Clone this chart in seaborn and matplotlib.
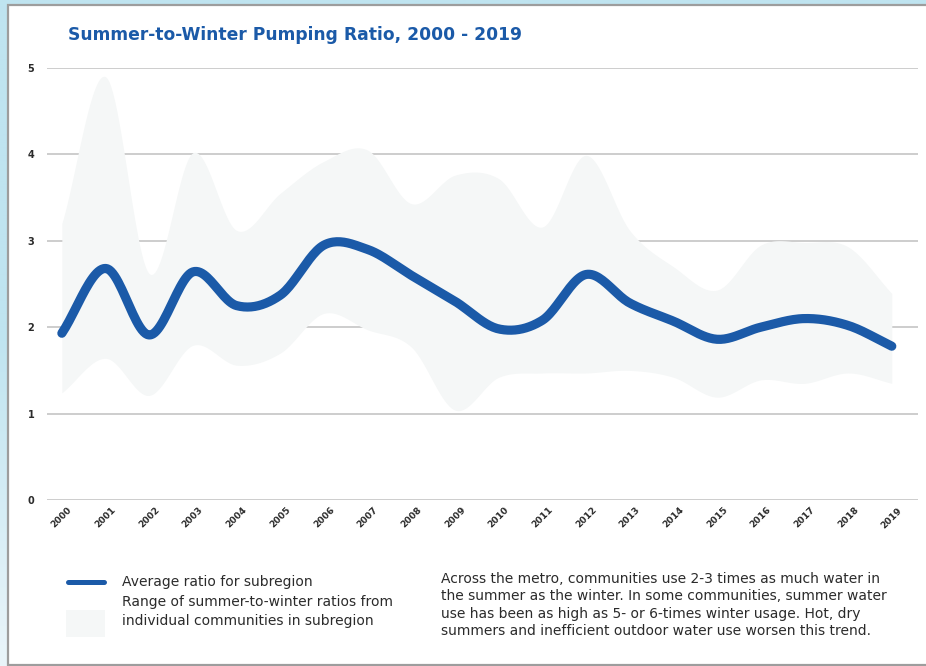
import numpy as np
import pandas as pd
import matplotlib
matplotlib.use("Agg")
import matplotlib.pyplot as plt
from matplotlib.lines import Line2D
from matplotlib.patches import Rectangle
import seaborn as sns

# ---- data -------------------------------------------------------------
years = list(range(2000, 2020))
year_labels = [str(y) for y in years]
avg_ratio = [1.93, 2.68, 1.91, 2.64, 2.25, 2.37, 2.95, 2.90, 2.60, 2.30,
             1.98, 2.08, 2.61, 2.28, 2.07, 1.86, 2.00, 2.10, 2.02, 1.78]
range_high = [3.20, 4.90, 2.62, 4.02, 3.12, 3.55, 3.92, 4.05, 3.43, 3.76,
              3.72, 3.16, 3.99, 3.12, 2.70, 2.43, 2.95, 2.98, 2.93, 2.39]
range_low = [1.24, 1.64, 1.21, 1.79, 1.56, 1.70, 2.16, 1.97, 1.77, 1.04,
             1.42, 1.47, 1.47, 1.50, 1.42, 1.19, 1.39, 1.35, 1.47, 1.35]
y_ticks = [0, 1, 2, 3, 4, 5]

title = "Summer-to-Winter Pumping Ratio, 2000 - 2019"
legend_line = "Average ratio for subregion"
legend_band = "Range of summer-to-winter ratios from\nindividual communities in subregion"
note = ("Across the metro, communities use 2-3 times as much water in\n"
        "the summer as the winter. In some communities, summer water\n"
        "use has been as high as 5- or 6-times winter usage. Hot, dry\n"
        "summers and inefficient outdoor water use worsen this trend.")

BLUE = "#1b5aa8"
BAND = "#f5f7f7"
GRID = "#c9c9c9"
TEXT = "#2b2b2b"


def smooth(x, y, n=24):
    """Catmull-Rom curve through the yearly points."""
    x = np.asarray(x, float)
    y = np.asarray(y, float)
    m = np.empty_like(y)
    m[1:-1] = (y[2:] - y[:-2]) / 2.0
    m[0] = y[1] - y[0]
    m[-1] = y[-1] - y[-2]
    xs, ys = [], []
    for i in range(len(x) - 1):
        t = np.linspace(0, 1, n, endpoint=False)
        h00 = 2 * t**3 - 3 * t**2 + 1
        h10 = t**3 - 2 * t**2 + t
        h01 = -2 * t**3 + 3 * t**2
        h11 = t**3 - t**2
        xs.append(x[i] + t * (x[i + 1] - x[i]))
        ys.append(h00 * y[i] + h10 * m[i] + h01 * y[i + 1] + h11 * m[i + 1])
    xs.append([x[-1]])
    ys.append([y[-1]])
    return np.concatenate(xs), np.concatenate(ys)


xs, avg_s = smooth(years, avg_ratio)
_, hi_s = smooth(years, range_high)
_, lo_s = smooth(years, range_low)
curve = pd.DataFrame({"year": xs, "ratio": avg_s})

# ---- figure -----------------------------------------------------------
sns.set_theme(style="white")
plt.rcParams["font.family"] = ["DejaVu Sans"]

W, H = 926, 666
fig = plt.figure(figsize=(W / 100, H / 100), dpi=100)
fig.patch.set_facecolor("white")


def fx(px):
    return px / W


def fy(py):
    return 1 - py / H


# light blue backdrop fading downwards, then the white card on top
bg = fig.add_axes([0, 0, 1, 1], zorder=-10)
grad = np.linspace(0, 1, 256).reshape(-1, 1)
bg.imshow(grad, aspect="auto", extent=[0, 1, 0, 1],
          cmap=matplotlib.colors.LinearSegmentedColormap.from_list(
              "bgfade", ["#bfe4f0", "#bfe4f0", "#eaf5fa"]))
bg.set_axis_off()
card = Rectangle((fx(7.5), fy(664.5)), 1.2, fy(4.5) - fy(664.5),
                 transform=fig.transFigure, facecolor="white",
                 edgecolor="#9d9d9d", linewidth=1.6, zorder=-5)
fig.add_artist(card)

ax = fig.add_axes([fx(47), fy(500), fx(918) - fx(47), fy(68) - fy(500)])
ax.set_facecolor("none")
ax.fill_between(xs, lo_s, hi_s, color=BAND, linewidth=0, zorder=1)
sns.lineplot(data=curve, x="year", y="ratio", ax=ax, color=BLUE,
             linewidth=6.6, solid_capstyle="round", zorder=3)

ax.set_xlim(1999.66, 2019.6)
ax.set_ylim(0, 5)
ax.set_yticks(y_ticks)
ax.set_yticklabels([str(v) for v in y_ticks], fontsize=7, color=TEXT,
                   fontweight="bold")
ax.set_xticks(years)
ax.set_xticklabels(year_labels, rotation=45, fontsize=6.6, color=TEXT,
                   fontweight="bold", ha="center")
ax.tick_params(axis="both", length=0)
ax.tick_params(axis="y", pad=9)
ax.tick_params(axis="x", pad=4)
ax.grid(axis="y", color=GRID, linewidth=1.3, zorder=0)
ax.set_axisbelow(True)
for s in ax.spines.values():
    s.set_visible(False)
ax.set_xlabel("")
ax.set_ylabel("")

fig.text(fx(68), fy(35), title, fontsize=12.3, fontweight="heavy",
         color=BLUE, va="center", ha="left")

# legend drawn in figure space
fig.add_artist(Line2D([fx(68), fx(104)], [fy(582), fy(582)],
                      transform=fig.transFigure, color=BLUE, linewidth=3.6,
                      solid_capstyle="round"))
fig.add_artist(Rectangle((fx(66), fy(637)), fx(39), fy(610) - fy(637),
                         transform=fig.transFigure, facecolor=BAND,
                         edgecolor="none"))
fig.text(fx(122), fy(582), legend_line, fontsize=10, color=TEXT,
         va="center", ha="left")
fig.text(fx(122), fy(611.5), legend_band, fontsize=10, color=TEXT,
         va="center", ha="left", linespacing=1.38)

fig.text(fx(441), fy(605), note, fontsize=10, color=TEXT,
         va="center", ha="left", linespacing=1.3)

fig.savefig("out.png", dpi=100)
